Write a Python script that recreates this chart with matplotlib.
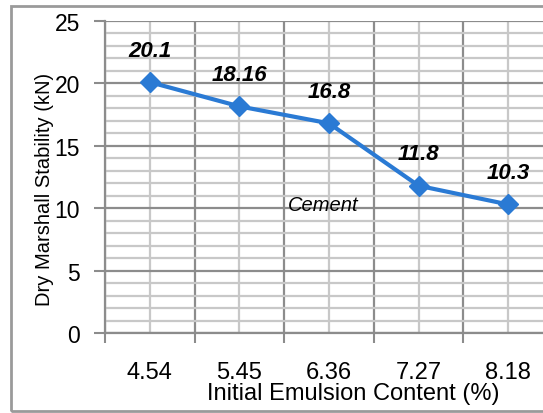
import matplotlib
matplotlib.use("Agg")
import matplotlib.pyplot as plt
from matplotlib.patches import Rectangle
import numpy as np

# chart data
emulsion_content = ["4.54", "5.45", "6.36", "7.27", "8.18"]
dry_stability = [20.1, 18.16, 16.8, 11.8, 10.3]
value_labels = ["20.1", "18.16", "16.8", "11.8", "10.3"]

plt.rcParams["font.family"] = ["Liberation Sans", "DejaVu Sans"]

W, H = 543, 414
fig = plt.figure(figsize=(W / 100, H / 100), dpi=100)

# axes area in pixels (right edge runs past the image)
left, right, top, bottom = 105, 553, 22, 334
ax = fig.add_axes([left / W, (H - bottom) / H, (right - left) / W, (bottom - top) / H])

x = np.arange(len(emulsion_content))
ax.set_xlim(-0.5, len(emulsion_content) - 0.5)
ax.set_ylim(0, 25)

# grid: major at 5 / category borders, minor at 1 / category centres
ax.set_yticks(np.arange(0, 26, 5))
ax.set_yticks(np.arange(0, 26, 1), minor=True)
ax.set_xticks(np.arange(-0.5, len(emulsion_content), 1.0))
ax.set_xticks(x, minor=True)
ax.set_xticklabels([])
ax.grid(which="minor", color="#c8c8c8", lw=1.6)
ax.grid(which="major", color="#8c8c8c", lw=1.6)
ax.set_axisbelow(True)

ax.tick_params(axis="y", which="major", direction="out", length=8, width=1.5,
               color="#8c8c8c", labelsize=16.5, pad=10)
ax.tick_params(axis="x", which="major", direction="out", length=7, width=1.5,
               color="#8c8c8c")
ax.tick_params(axis="y", which="minor", length=0)
ax.tick_params(axis="x", which="minor", length=0, labelsize=17, pad=20)
ax.set_xticklabels(emulsion_content, minor=True)

for s in ["top", "right"]:
    ax.spines[s].set_visible(False)
for s in ["left", "bottom"]:
    ax.spines[s].set_color("#8c8c8c")
    ax.spines[s].set_linewidth(1.6)

ax.plot(x, dry_stability, color="#2a7ad4", lw=3, marker="D", markersize=10,
        clip_on=False, zorder=3)

for xi, yi, lab in zip(x, dry_stability, value_labels):
    ax.annotate(lab, (xi, yi), xytext=(0, 19), textcoords="offset points",
                ha="center", va="baseline", fontsize=16, fontweight="bold",
                fontstyle="italic")

ax.text(1.94, 10.26, "Cement", fontsize=14.5, fontstyle="italic", ha="center", va="center")

fig.text(45 / W, 1 - 189 / H, "Dry Marshall Stability (kN)", rotation=90,
         ha="center", va="center", fontsize=14.5)
fig.text(353 / W, 1 - 400 / H, "Initial Emulsion Content (%)",
         ha="center", va="baseline", fontsize=17)

# outer chart frame
fig.patches.append(Rectangle((11 / W, 2 / H), 1.2, 405 / H, transform=fig.transFigure,
                             fill=False, edgecolor="#9a9a9a", lw=2))

fig.savefig("out.png", dpi=100)
